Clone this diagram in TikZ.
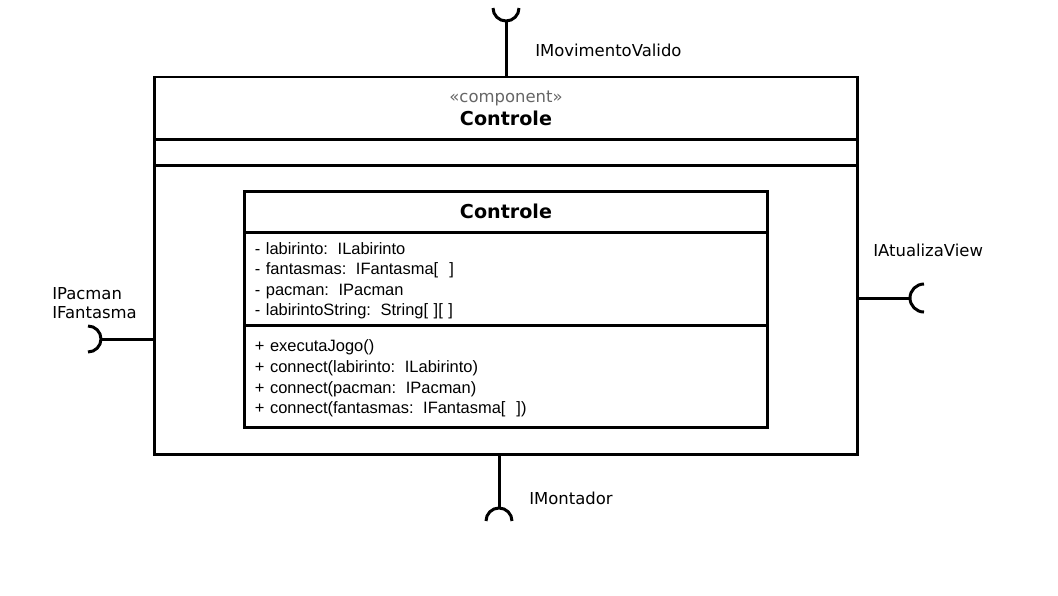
\documentclass[tikz,border=0pt]{standalone}
\usepackage{fontspec}
\setmainfont{DejaVu Sans}
\newfontfamily\arialfont{Liberation Sans}
\usetikzlibrary{positioning}
\definecolor{stereogray}{RGB}{102,102,102}
\newcommand{\colsp}{:\hspace{1pt} }
\tikzset{
  wire/.style={line width=2.13pt},
  part/.style={draw, line width=2.13pt, inner sep=0pt, outer sep=0pt},
  comppart/.style={part, minimum width=17.55cm},
  classpart/.style={part, minimum width=13.05cm},
  members/.style={classpart, align=left, text width=12.55cm, inner xsep=0.25cm,
    font=\arialfont\fontsize{11.7}{14.6}\selectfont},
  lbl/.style={anchor=west, inner sep=0pt, font=\fontsize{11.7}{13.5}\selectfont},
  titletext/.style={inner sep=0pt, font=\fontsize{13.6}{16}\selectfont\bfseries}
}
\begin{document}
\begin{tikzpicture}[x=0.025cm, y=-0.025cm]
  \useasboundingbox (0,0) rectangle (1058,595);
  \node[comppart, minimum height=1.55cm] (head) at (506,108) {};
  \node[comppart, minimum height=0.65cm, below=0pt of head] (band) {};
  \node[comppart, minimum height=7.225cm, below=0pt of band] (body) {};
  \node[lbl, anchor=center, text=stereogray] (stype) at (506,98) {«component»};
  \node[titletext] (ctitle) at (506,118) {Controle};
  \node[classpart, minimum height=1.025cm] (chead) at (506,211.5) {};
  \node[titletext] (cname) at (506,211) {Controle};
  \node[members, minimum height=2.325cm, below=0pt of chead] (attrs) {%
    \rule{0pt}{11.5pt}- labirinto\colsp ILabirinto\\
    - fantasmas\colsp IFantasma[~~]\\
    - pacman\colsp IPacman\\
    - labirintoString\colsp String[~][~]};
  \node[members, minimum height=2.55cm, below=0pt of attrs] (ops) {%
    \rule{0pt}{12pt}+ executaJogo()\\
    + connect(labirinto\colsp ILabirinto)\\
    + connect(pacman\colsp IPacman)\\
    + connect(fantasmas\colsp IFantasma[~~])};
  \coordinate (movsock) at (506,21);
  \coordinate (pacsock) at (101,339);
  \coordinate (viewsock) at (910,298);
  \coordinate (montsock) at (499,508);
  \begin{scope}[wire]
    \draw (head.north) -- (movsock);
    \draw (movsock) ++(-13,-13) arc[start angle=180, end angle=360, radius=0.325cm];
    \draw (body.west |- pacsock) -- (pacsock);
    \draw (pacsock) ++(-13,-13) arc[start angle=90, end angle=-90, radius=0.325cm];
    \draw (body.east |- viewsock) -- (viewsock);
    \draw (viewsock) ++(14,-14) arc[start angle=90, end angle=270, radius=0.35cm];
    \draw (body.south -| montsock) -- (montsock);
    \draw (montsock) ++(-13,13) arc[start angle=180, end angle=0, radius=0.325cm];
  \end{scope}
  \node[lbl] (movlbl) at (535,50) {IMovimentoValido};
  \node[lbl, align=left] (paclbl) at (52,303) {IPacman\\IFantasma};
  \node[lbl] (viewlbl) at (873,250) {IAtualizaView};
  \node[lbl] (montlbl) at (529,498) {IMontador};
\end{tikzpicture}
\end{document}
